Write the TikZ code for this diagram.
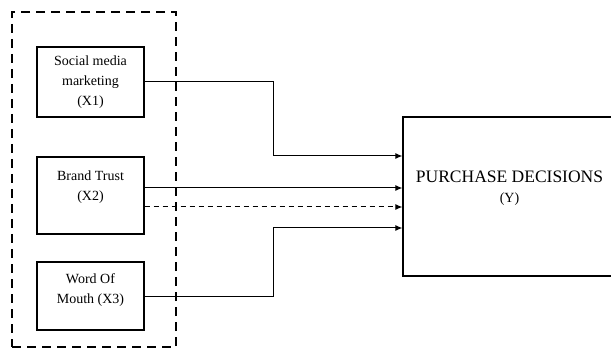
\documentclass[tikz,border=0pt]{standalone}
\usepackage{fontspec}
\setmainfont{Liberation Serif}
\usepackage{tikz}
\usetikzlibrary{positioning,arrows.meta,calc}

\begin{document}
\begin{tikzpicture}[
    x=1pt, y=-1pt,
    every node/.style={align=center, font=\fontsize{14}{20}\selectfont},
    varbox/.style={rectangle, draw=black, line width=1.3pt, minimum width=107pt, inner sep=0pt},
    groupbox/.style={rectangle, draw=black, line width=2.6pt, dash pattern=on 9pt off 6pt, minimum width=164pt, minimum height=335pt, inner sep=0pt},
    target/.style={rectangle, draw=black, line width=1.3pt, minimum width=213pt, minimum height=159pt, inner sep=0pt},
    arrow/.style={-{Latex[length=7pt,width=6pt]}, line width=1pt},
    dasharrow/.style={arrow, dash pattern=on 5pt off 4pt}
]
\path[use as bounding box, clip] (0,0) rectangle (611,350);

% Independent variables (X1-X3)
\node[groupbox] (grp) at (94,179.5) {};
\node[varbox, minimum height=70pt] (smm) at (90.5,82) {Social media\\marketing\\(X1)};
\node[varbox, minimum height=77pt] (trust) at (90.5,195.5) {Brand Trust\\(X2)\\\mbox{}};
\node[varbox, minimum height=68pt] (wom) at (90.5,296) {Word Of\\Mouth (X3)\\[-5pt]\mbox{}};

% Dependent variable (Y)
\node[target] (pd) at (509.5,196.5) {{\fontsize{17.5}{20}\selectfont PURCHASE DECISIONS}\\(Y)\\\mbox{}};

% Entry points on the target box
\coordinate (in1) at (pd.west |- 0,156);
\coordinate (in4) at (pd.west |- 0,228);
\coordinate (t1) at ([yshift=7.5pt]trust.east);
\coordinate (t2) at ([yshift=-11.5pt]trust.east);

% Directed flow
\draw[arrow] (smm.east) -- (smm.east -| 273,0) |- (in1);
\draw[arrow] (t1) -- (t1 -| pd.west);
\draw[dasharrow] (t2) -- (t2 -| pd.west);
\draw[arrow] (wom.east) -- (wom.east -| 273,0) |- (in4);

\end{tikzpicture}
\end{document}
